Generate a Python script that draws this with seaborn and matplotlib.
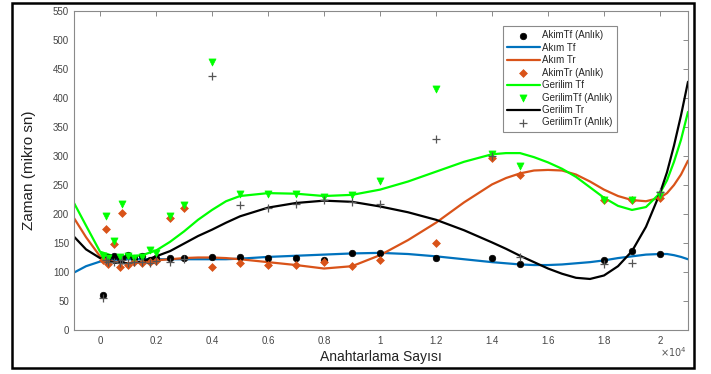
import numpy as np
import pandas as pd
import matplotlib
matplotlib.use("Agg")
import matplotlib.pyplot as plt
import seaborn as sns
from matplotlib.patches import Rectangle
from matplotlib.ticker import FuncFormatter, FixedLocator

# ---------------- data ----------------
# fitted curves (x in switching counts, y in microseconds)
curve_x = [-930, -500, 0, 500, 1000, 1500, 2000, 2500, 3000, 3500, 4000, 4500, 5000,
           6000, 7000, 8000, 9000, 10000, 11000, 12000, 13000, 14000, 14500, 15000,
           15500, 16000, 16500, 17000, 17500, 18000, 18500, 19000, 19500, 20000,
           20250, 20500, 20750, 21000]
akim_tf = [99, 110, 118, 121, 122, 122, 122, 122, 122, 122, 122, 122, 123,
           126, 128, 130, 132, 133, 131, 127, 122, 117, 115, 113,
           112, 112, 113, 115, 117, 120, 124, 127, 130, 131,
           131, 129, 126, 122]
akim_tr = [193, 160, 127, 117, 115, 117, 120, 122, 124, 125, 125, 124, 122,
           117, 112, 106, 110, 129, 155, 185, 220, 251, 262, 270,
           275, 276, 275, 268, 256, 242, 231, 224, 222, 228,
           236, 250, 268, 292]
gerilim_tf = [219, 180, 135, 127, 126, 129, 137, 152, 170, 190, 207, 222, 231,
              236, 235, 231, 233, 242, 256, 273, 290, 303, 305, 305,
              298, 289, 278, 264, 246, 228, 214, 207, 212, 236,
              258, 290, 328, 376]
gerilim_tr = [161, 139, 124, 116, 115, 118, 127, 136, 149, 162, 173, 185, 196,
              211, 219, 223, 221, 213, 203, 190, 172, 151, 140, 128,
              117, 106, 97, 90, 88, 94, 110, 136, 178, 236,
              272, 318, 370, 428]

# instantaneous measurements
pts_x = [100, 200, 300, 500, 700, 800, 1000, 1200, 1500, 1800, 2000, 2500, 3000,
         4000, 5000, 6000, 7000, 8000, 9000, 10000, 12000, 14000, 15000, 18000,
         19000, 20000]
akim_tf_pts = [60, 122, 126, 128, 125, 124, 130, 124, 127, 121, 125, 125, 125,
               126, 126, 125, 125, 121, 133, 133, 125, 124, 113, 121, 137, 131]
akim_tr_pts = [120, 174, 113, 148, 108, 201, 112, 118, 115, 117, 119, 193, 210,
               109, 115, 112, 112, 117, 110, 121, 150, 296, 268, 224, 224, 228]
gerilim_tf_pts = [127, 197, 125, 154, 126, 218, 128, 124, 126, 138, 132, 197, 215,
                  462, 234, 234, 234, 230, 233, 257, 416, 303, 283, 224, 225, 232]
gerilim_tr_pts = [55, 120, 118, 117, 115, 120, 116, 118, 117, 116, 119, 118, 122,
                  438, 215, 211, 218, 225, 221, 218, 330, 300, 126, 114, 116, 238]

x_ticks = [0, 2000, 4000, 6000, 8000, 10000, 12000, 14000, 16000, 18000, 20000]
y_ticks = list(range(0, 551, 50))
# grid lines that show in the reference
x_grid = [0, 4000, 8000, 12000, 20000]
y_grid = [150, 400, 500]

# ---------------- style ----------------
sns.set_style("white")
plt.rcParams["font.family"] = ["Liberation Sans", "DejaVu Sans"]
plt.rcParams["axes.grid"] = False

C_BLUE = "#0072BD"
C_ORANGE = "#D95319"
C_GREEN = "#00FF00"

fig = plt.figure(figsize=(7.11, 3.74), dpi=100)
ax = fig.add_axes([74 / 711, 44 / 374, 614 / 711, 319 / 374])

cdf = pd.DataFrame({"x": curve_x})
pdf = pd.DataFrame({"x": pts_x})

sns.scatterplot(x=pdf["x"], y=akim_tf_pts, ax=ax, color="black", marker="o",
                s=22, edgecolor="black", linewidth=0.5, label="AkimTf (Anlık)", zorder=3)
sns.lineplot(x=cdf["x"], y=akim_tf, ax=ax, color=C_BLUE, lw=1.6, label="Akım Tf", zorder=2)
sns.lineplot(x=cdf["x"], y=akim_tr, ax=ax, color=C_ORANGE, lw=1.6, label="Akım Tr", zorder=2)
sns.scatterplot(x=pdf["x"], y=akim_tr_pts, ax=ax, color=C_ORANGE, marker="D",
                s=16, edgecolor=C_ORANGE, linewidth=0.5, label="AkimTr (Anlık)", zorder=3)
sns.lineplot(x=cdf["x"], y=gerilim_tf, ax=ax, color=C_GREEN, lw=1.6, label="Gerilim Tf", zorder=2)
sns.scatterplot(x=pdf["x"], y=gerilim_tf_pts, ax=ax, color=C_GREEN, marker="v",
                s=26, edgecolor=C_GREEN, linewidth=0.5, label="GerilimTf (Anlık)", zorder=3)
sns.lineplot(x=cdf["x"], y=gerilim_tr, ax=ax, color="black", lw=1.6, label="Gerilim Tr", zorder=2)
sns.scatterplot(x=pdf["x"], y=gerilim_tr_pts, ax=ax, color="#555555", marker="+",
                s=30, linewidth=0.9, label="GerilimTr (Anlık)", zorder=4)

ax.set_xlim(-930, 21000)
ax.set_ylim(0, 550)
ax.set_xticks(x_ticks)
ax.set_yticks(y_ticks)
ax.xaxis.set_major_formatter(FuncFormatter(lambda v, p: f"{v/1e4:g}"))
ax.tick_params(axis="both", direction="in", length=3.5, width=0.6, colors="#777777",
               labelcolor="#444444", labelsize=7, top=True, right=True)
ax.tick_params(axis="x", pad=4)
for sp in ax.spines.values():
    sp.set_color("#8a8a8a")
    sp.set_linewidth(0.8)

# only a few dotted grid lines (minor grid at chosen positions, no major grid)
ax.grid(False, which="major")
ax.xaxis.set_minor_locator(FixedLocator(x_grid))
ax.yaxis.set_minor_locator(FixedLocator(y_grid))
ax.tick_params(which="minor", length=0)
ax.grid(True, which="minor", color="#c4c4c4", linestyle=(0, (1, 1.5)), linewidth=0.7, alpha=1)
ax.set_axisbelow(True)

ax.set_xlabel("Anahtarlama Sayısı", fontsize=10, color="#222222", labelpad=3)
ax.set_ylabel("Zaman (mikro sn)", fontsize=11, color="#222222", labelpad=12)
ax.text(0.998, -0.069, r"$\times10^4$", transform=ax.transAxes, ha="right", va="center",
        fontsize=7, color="#555555")

leg = ax.legend(loc="upper left", bbox_to_anchor=(0.698, 0.953), borderaxespad=0,
                fontsize=7, frameon=True, fancybox=False, edgecolor="#8a8a8a",
                handlelength=3.4, handletextpad=0.25, labelspacing=0.25,
                borderpad=0.45, framealpha=1)
leg.get_frame().set_linewidth(0.8)

# outer black border of the figure
fig.patches.append(Rectangle((12 / 711, 6 / 374), 682 / 711, 365 / 374,
                             transform=fig.transFigure, fill=False,
                             edgecolor="black", linewidth=1.8))

fig.savefig("out.png", dpi=100)
